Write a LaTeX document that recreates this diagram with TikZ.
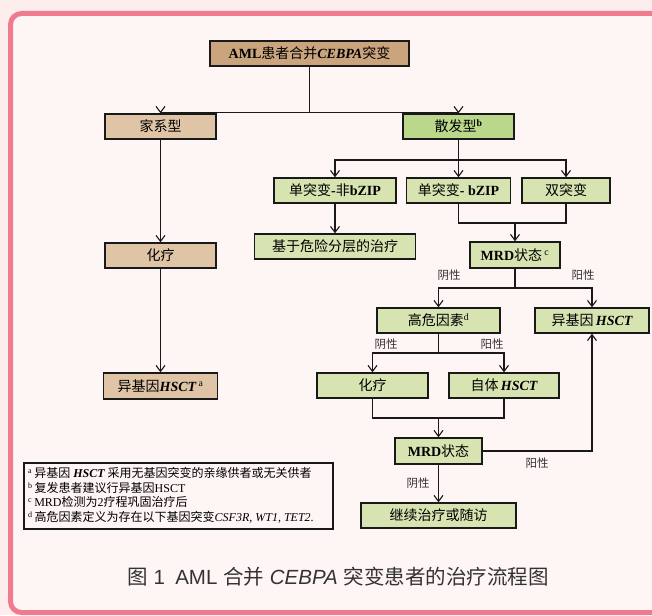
\documentclass[tikz,border=0pt]{standalone}
\usepackage{fontspec}
\setmainfont{Liberation Serif}
\newfontfamily\cjk{Noto Sans CJK SC}
\newfontfamily\capsans{Liberation Sans}
\usetikzlibrary{arrows.meta}
\newcommand\zh[1]{{\cjk #1}}
\newcommand\bi[1]{{\bfseries\itshape #1}}
\definecolor{outerbg}{HTML}{FDEDED}
\definecolor{innerbg}{HTML}{FEF6F4}
\definecolor{framec}{HTML}{F07A8E}
\definecolor{tanD}{HTML}{C9A47C}
\definecolor{tanL}{HTML}{DFC4A5}
\definecolor{grnD}{HTML}{BAD78B}
\definecolor{grnL}{HTML}{D7E4B2}
\definecolor{txtg}{HTML}{333333}
\tikzset{
  box/.style={draw=black!90, line width=1.4pt, minimum height=25pt, inner sep=0pt, font=\fontsize{14}{16}\selectfont},
  conn/.style={draw=black!90, line width=1.3pt},
  arr/.style={conn, -{Straight Barb[length=6pt,width=9pt,line width=1.1pt]}},
  lab/.style={font=\cjk\fontsize{11.5}{13}\selectfont, text=txtg, inner sep=0pt},
}
\begin{document}
\begin{tikzpicture}[x=1pt,y=-1pt]
\useasboundingbox (0,0) rectangle (652,615);
\begin{scope}
\clip (0,0) rectangle (652,615);
\fill[outerbg] (0,0) rectangle (652,615);
\draw[line width=5pt, draw=framec, fill=innerbg, rounded corners=11pt] (10.5,13.5) rectangle (720,612.5);
\end{scope}

% nodes
\node[box, fill=tanD, minimum width=199pt] (aml) at (309.5,53.5) {\textbf{AML}\zh{患者合并}\bi{CEBPA}\zh{突变}};
\node[box, fill=tanL, minimum width=111pt] (fam) at (160.5,126.5) {\zh{家系型}};
\node[box, fill=grnD, minimum width=111pt] (spo) at (458.5,126.5) {\zh{散发型}\textsuperscript{\bfseries b}};
\node[box, fill=grnL, minimum width=122pt] (m1) at (335,190.5) {\zh{单突变}\textbf{-}\zh{非}\textbf{bZIP}};
\node[box, fill=grnL, minimum width=104pt] (m2) at (458.5,190.5) {\zh{单突变}\textbf{- bZIP}};
\node[box, fill=grnL, minimum width=88pt] (m3) at (566,190.5) {\zh{双突变}};
\node[box, fill=grnL, minimum width=161pt] (risk) at (335,246.5) {\zh{基于危险分层的治疗}};
\node[box, fill=grnL, minimum width=90pt, minimum height=26pt] (mrd1) at (515,255) {\textbf{MRD}\zh{状态}\,\textsuperscript{c}};
\node[box, fill=tanL, minimum width=111pt] (chemL) at (160.5,255.5) {\zh{化疗}};
\node[box, fill=tanL, minimum width=114pt, minimum height=26pt] (hsctL) at (160.5,386) {\zh{异基因}\bi{HSCT}\,\textsuperscript{a}};
\node[box, fill=grnL, minimum width=123pt] (hi) at (438.5,320.5) {\zh{高危因素}\textsuperscript{d}};
\node[box, fill=grnL, minimum width=114pt] (allo) at (592,320.5) {\zh{异基因}\,\bi{HSCT}};
\node[box, fill=grnL, minimum width=111pt] (chemR) at (372.5,385.5) {\zh{化疗}};
\node[box, fill=grnL, minimum width=110pt] (auto) at (504,385.5) {\zh{自体}\,\bi{HSCT}};
\node[box, fill=grnL, minimum width=87pt, minimum height=26pt] (mrd2) at (438.5,451) {\textbf{MRD}\zh{状态}};
\node[box, fill=grnL, minimum width=155pt] (cont) at (438.5,515.5) {\zh{继续治疗或随访}};

% footnotes
\node[draw=black!90, line width=1.3pt, minimum width=309pt, minimum height=66pt, inner sep=0pt] (notes) at (178.5,496) {};
\node[anchor=north west, align=left, inner sep=0pt, font=\fontsize{12}{14.5}\selectfont] (ntext) at (28,467.5) {%
\textsuperscript{a}\,\zh{异基因} \bi{HSCT} \zh{采用无基因突变的亲缘供者或无关供者}\\
\textsuperscript{b}\,\zh{复发患者建议行异基因}HSCT\\
\textsuperscript{c}\,MRD\zh{检测为}2\zh{疗程巩固治疗后}\\
\textsuperscript{d}\,\zh{高危因素定义为存在以下基因突变}\textit{CSF3R}, \textit{WT1}, \textit{TET2}.};

% caption
\node[font=\fontsize{20.5}{22}\selectfont, text=txtg] (cap) at (338,577) {\zh{图}\capsans{} 1\enspace AML \zh{合并} \textit{CEBPA} \zh{突变患者的治疗流程图}};

% connectors
\coordinate (j1) at (309.5,112.5);
\draw[conn] (aml) -- (j1);
\draw[arr] (j1) -| (fam);
\draw[arr] (j1) -| (spo);
\draw[arr] (fam) -- (chemL);
\draw[arr] (chemL) -- (hsctL);

\coordinate (j2) at (458.5,160);
\draw[conn] (spo) -- (j2);
\draw[arr] (j2) -| (m1);
\draw[arr] (j2) -| (m3);
\draw[arr] (j2) -- (m2);
\draw[arr] (m1) -- (risk);

\coordinate (j3) at (515,223);
\draw[conn] (m2.south) |- (j3) -| (m3.south);
\draw[arr] (j3) -- (mrd1);

\coordinate (j4) at (515,288);
\draw[conn] (mrd1) -- (j4);
\draw[arr] (j4) -| (hi);
\draw[arr] (j4) -| (allo);
\node[lab] (l1) at (449,275) {阴性};
\node[lab] (l2) at (583,275) {阳性};

\coordinate (j5) at (438.5,353);
\draw[conn] (hi) -- (j5);
\draw[arr] (j5) -| (chemR);
\draw[arr] (j5) -| (auto);
\node[lab] (l3) at (386,344) {阴性};
\node[lab] (l4) at (492,344) {阳性};

\coordinate (j6) at (438.5,418);
\draw[conn] (chemR.south) |- (j6) -| (auto.south);
\draw[arr] (j6) -- (mrd2);

\draw[arr] (mrd2) -- (cont);
\node[lab] (l5) at (418,483) {阴性};
\draw[arr] (mrd2.east) -| (allo.south);
\node[lab] (l6) at (537,463) {阳性};
\end{tikzpicture}
\end{document}
